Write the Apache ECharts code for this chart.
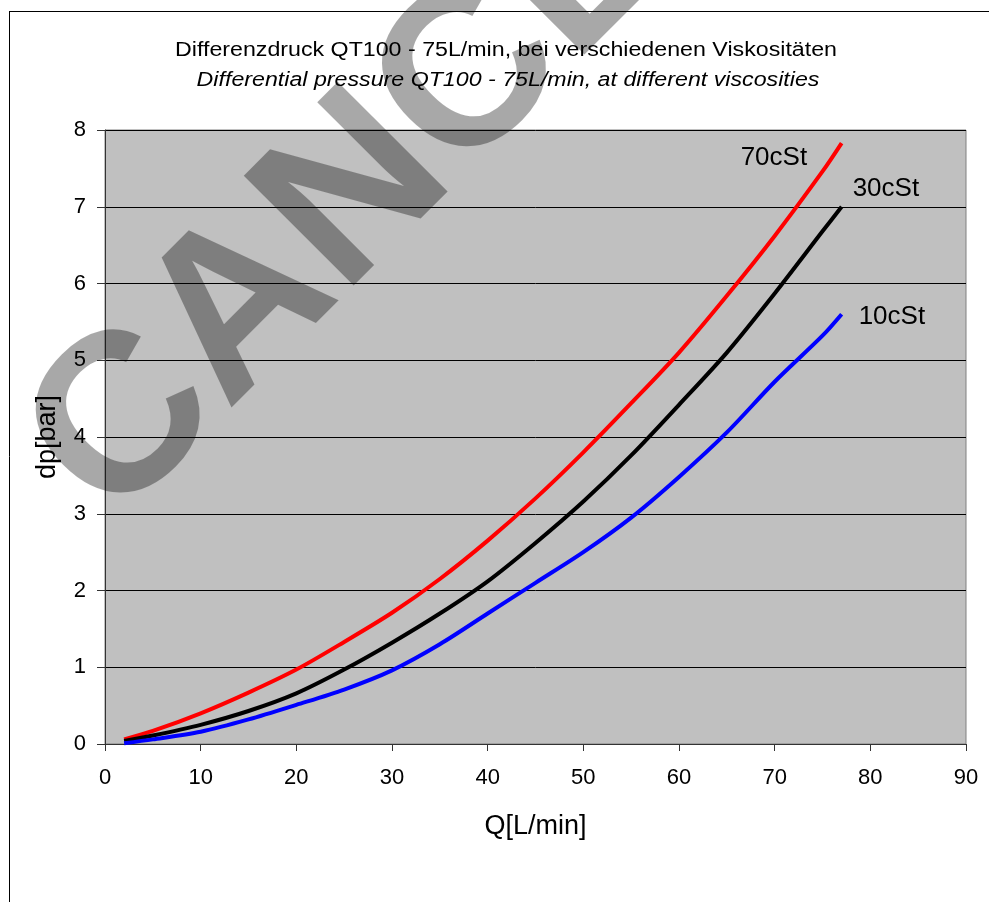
<!DOCTYPE html>
<html>
<head>
<meta charset="utf-8">
<script src="https://cdn.jsdelivr.net/npm/echarts@6/dist/echarts.min.js"></script>
<style>
html,body{margin:0;padding:0;background:#fff;}
#chart{width:989px;height:902px;}
</style>
</head>
<body>
<div id="chart"></div>
<script>
const titleLine1 = 'Differenzdruck QT100 - 75L/min, bei verschiedenen Viskositäten';
const titleLine2 = 'Differential pressure QT100 - 75L/min, at different viscosities';
const xAxisName = 'Q[L/min]';
const yAxisName = 'dp[bar]';
const seriesNames = ['70cSt', '30cSt', '10cSt'];
const flowQ = [2, 5, 10, 15, 20, 25, 30, 35, 40, 45, 50, 55, 60, 65, 70, 75, 77];
const dp70 = [0.06, 0.17, 0.40, 0.67, 0.97, 1.33, 1.71, 2.15, 2.65, 3.20, 3.80, 4.44, 5.10, 5.84, 6.62, 7.46, 7.83];
const dp30 = [0.04, 0.11, 0.25, 0.43, 0.66, 0.97, 1.32, 1.70, 2.12, 2.62, 3.16, 3.76, 4.42, 5.10, 5.87, 6.68, 7.00];
const dp10 = [0.01, 0.06, 0.16, 0.32, 0.51, 0.71, 0.96, 1.30, 1.70, 2.10, 2.50, 2.95, 3.48, 4.06, 4.72, 5.32, 5.60];
const watermarkText = 'CANCEL';

const FONT = '"Liberation Sans", Arial, Helvetica, sans-serif';
function pairs(xs, ys) { return xs.map((x, i) => [x, ys[i]]); }

const chart = echarts.init(document.getElementById('chart'), null, {renderer: 'canvas'});

function mkSeries(name, data, color, offset) {
  return {
    name: name,
    type: 'line',
    data: pairs(flowQ, data),
    symbol: 'none',
    smooth: 0.3,
    lineStyle: {color: color, width: 4},
    itemStyle: {color: color},
    z: 3,
    endLabel: {
      show: true,
      formatter: '{a}',
      color: '#000',
      fontSize: 26,
      fontFamily: FONT,
      distance: 0,
      offset: offset
    },
    animation: false
  };
}

const option = {
  animation: false,
  backgroundColor: '#ffffff',
  grid: {
    left: 105, right: 23, top: 130, bottom: 158,
    show: true, backgroundColor: '#C0C0C0', borderColor: '#808080', borderWidth: 1
  },
  xAxis: {
    type: 'value', min: 0, max: 90, interval: 10,
    name: xAxisName, nameLocation: 'middle', nameGap: 69,
    nameTextStyle: {fontSize: 27, fontFamily: FONT, color: '#000'},
    axisLine: {show: true, lineStyle: {color: '#333', width: 1}},
    axisTick: {show: true, inside: false, length: 7, lineStyle: {color: '#333'}},
    axisLabel: {fontSize: 22, fontFamily: FONT, color: '#000', margin: 23},
    splitLine: {show: false}
  },
  yAxis: {
    type: 'value', min: 0, max: 8, interval: 1,
    name: yAxisName, nameLocation: 'middle', nameGap: 44,
    nameTextStyle: {fontSize: 27, fontFamily: FONT, color: '#000'},
    axisLine: {show: true, lineStyle: {color: '#333', width: 1}},
    axisTick: {show: true, inside: false, length: 8, lineStyle: {color: '#333'}},
    axisLabel: {fontSize: 22, fontFamily: FONT, color: '#000', margin: 19},
    splitLine: {show: true, lineStyle: {color: '#000', width: 1}}
  },
  series: [
    mkSeries(seriesNames[0], dp70, '#FF0000', [-101, 15]),
    mkSeries(seriesNames[1], dp30, '#000000', [11, -18]),
    mkSeries(seriesNames[2], dp10, '#0000FF', [17, 3])
  ],
  graphic: [
    {type: 'line', shape: {x1: 9.5, y1: 11, x2: 9.5, y2: 902}, style: {stroke: '#000', lineWidth: 1}, z: 1},
    {type: 'line', shape: {x1: 9, y1: 11.5, x2: 989, y2: 11.5}, style: {stroke: '#000', lineWidth: 1}, z: 1},
    {type: 'text', x: 506, y: 50, scaleX: 1.16, z: 5,
      style: {text: titleLine1, font: '20px ' + FONT, fill: '#000', textAlign: 'center', textVerticalAlign: 'middle'}},
    {type: 'text', x: 508, y: 80, scaleX: 1.16, z: 5,
      style: {text: titleLine2, font: 'italic 20px ' + FONT, fill: '#000', textAlign: 'center', textVerticalAlign: 'middle'}},
    {type: 'text', x: 401, y: 150, rotation: Math.PI / 4, z: 100,
      style: {text: watermarkText, font: 'bold 226px ' + FONT, fill: 'rgba(0,0,0,0.34)', textAlign: 'center', textVerticalAlign: 'middle'}}
  ]
};
chart.setOption(option);
</script>
</body>
</html>
